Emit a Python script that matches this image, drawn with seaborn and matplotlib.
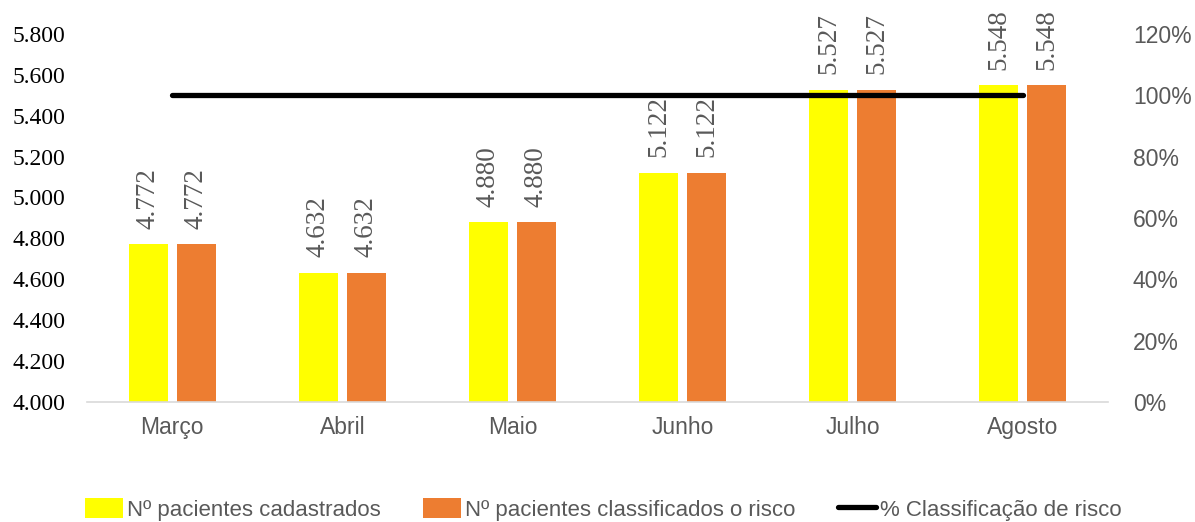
import seaborn as sns
import matplotlib.pyplot as plt
import pandas as pd
from matplotlib.ticker import FuncFormatter, PercentFormatter

sns.set_theme(style='white')
plt.rcParams['font.family'] = ['Liberation Sans Narrow', 'Liberation Sans', 'DejaVu Sans']

months = ['Março', 'Abril', 'Maio', 'Junho', 'Julho', 'Agosto']
cadastrados = [4772, 4632, 4880, 5122, 5527, 5548]
classificados = [4772, 4632, 4880, 5122, 5527, 5548]
pct_risco = [1.0, 1.0, 1.0, 1.0, 1.0, 1.0]

s1 = 'Nº pacientes cadastrados'
s2 = 'Nº pacientes classificados o risco'
s3 = '% Classificação de risco'

GRAY = '#595959'


def thousands(v):
    return f'{int(v):,}'.replace(',', '.')


def main():
    df = pd.DataFrame({'mes': months * 2,
                       'valor': cadastrados + classificados,
                       'serie': [s1] * len(months) + [s2] * len(months)})

    fig = plt.figure(figsize=(11.95, 5.22), dpi=100)
    ax = fig.add_axes([0.073, 0.230, 0.854, 0.705])

    sns.barplot(ax=ax, data=df, x='mes', y='valor', hue='serie',
                palette=['#ffff00', '#ed7d31'], width=0.565, gap=0.19,
                linewidth=0, saturation=1)
    ax.set_ylim(4000, 5800)
    ax.set_xlim(-0.5, len(months) - 0.5)
    ax.set_yticks(range(4000, 5801, 200))
    ax.yaxis.set_major_formatter(FuncFormatter(lambda v, p: thousands(v)))
    for c in ax.containers:
        ax.bar_label(c, labels=[thousands(b.get_height()) for b in c],
                     rotation=90, padding=11, color=GRAY, fontsize=19.5,
                     family='Liberation Serif')

    ax2 = ax.twinx()
    sns.pointplot(ax=ax2, x=months, y=pct_risco, color='black', marker='',
                  linewidth=3.8, label=s3)
    ax2.lines[0].set_solid_capstyle('round')
    ax2.set_ylim(0, 1.2)
    ax2.set_yticks([0, 0.2, 0.4, 0.6, 0.8, 1.0, 1.2])
    ax2.yaxis.set_major_formatter(PercentFormatter(1.0, decimals=0))
    ax2.set_xlim(-0.5, len(months) - 0.5)

    for a in (ax, ax2):
        for sp in a.spines.values():
            sp.set_visible(False)
        a.set_xlabel('')
        a.set_ylabel('')
    ax.spines['bottom'].set_visible(True)
    ax.spines['bottom'].set_color('#d9d9d9')
    ax.spines['bottom'].set_linewidth(1.2)

    ax.tick_params(axis='y', length=0, pad=16, labelsize=17, labelcolor='black')
    for t in ax.get_yticklabels():
        t.set_family('Liberation Serif')
    ax.tick_params(axis='x', length=0, pad=10, labelsize=16.5, labelcolor=GRAY)
    ax2.tick_params(axis='y', length=0, pad=18, labelsize=16.5, labelcolor=GRAY)

    h1, l1 = ax.get_legend_handles_labels()
    h2, l2 = ax2.get_legend_handles_labels()
    if ax.legend_:
        ax.legend_.remove()
    if ax2.legend_:
        ax2.legend_.remove()
    fig.legend(h1 + h2, l1 + l2, loc='center', bbox_to_anchor=(0.505, 0.024),
               ncol=3, frameon=False, fontsize=16, labelcolor=GRAY,
               handlelength=1.7, handleheight=1.0, handletextpad=0.2,
               columnspacing=1.9)

    plt.savefig('out.png', dpi=100)


if __name__ == '__main__':
    main()
